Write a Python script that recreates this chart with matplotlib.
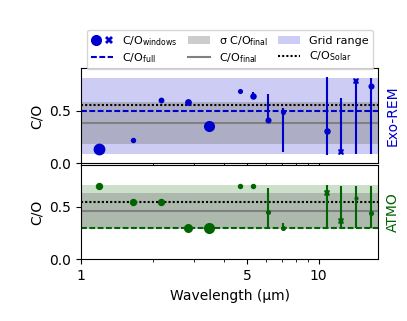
import matplotlib
matplotlib.use('Agg')
import matplotlib.pyplot as plt
import matplotlib.ticker as mticker
from matplotlib.lines import Line2D
from matplotlib.patches import Patch
from matplotlib.legend_handler import HandlerTuple
import numpy as np

# wavelength windows (um)
wl = [1.19, 1.65, 2.17, 2.81, 3.47, 4.69, 5.30, 6.13, 7.05, 10.8, 12.45, 14.4, 16.6]

# Exo-REM
rem_co = [0.14, 0.22, 0.60, 0.58, 0.35, 0.685, 0.64, 0.41, 0.49, 0.31, 0.105, 0.785, 0.73]
rem_lo = [np.nan] * 6 + [0.62, 0.38, 0.11, 0.08, 0.10, 0.09, 0.09]
rem_hi = [np.nan] * 6 + [0.68, 0.66, 0.52, 0.82, 0.62, 0.80, 0.81]
rem_cross = [False] * 10 + [True, True, False]
rem_ms = [8.5, 3.9, 4.2, 4.9, 8.0, 3.7, 4.7, 4.4, 3.7, 4.7, 5.0, 5.0, 4.4]
rem_full = 0.50
rem_final = 0.38
rem_sigma = 0.20
rem_grid = (0.09, 0.81)

# ATMO
atmo_co = [0.70, 0.55, 0.55, 0.30, 0.30, 0.70, 0.70, 0.45, 0.30, 0.635, 0.365, 0.59, 0.44]
atmo_lo = [np.nan] * 7 + [0.30, 0.30, 0.30, 0.30, 0.30, 0.30]
atmo_hi = [np.nan] * 7 + [0.68, 0.35, 0.71, 0.70, 0.70, 0.70]
atmo_cross = [False] * 9 + [True, True, False, False]
atmo_ms = [5.3, 5.3, 5.3, 6.5, 8.0, 3.9, 3.9, 3.7, 3.7, 4.4, 4.4, 3.0, 3.7]
atmo_full = 0.30
atmo_final = 0.46
atmo_sigma = 0.17
atmo_grid = (0.30, 0.71)

co_solar = 0.55

blue = '#0000cd'
green = '#006400'

fig = plt.figure(figsize=(4.07, 3.21), dpi=100)
ax1 = fig.add_axes([0.199, 0.491, 0.730, 0.296])
ax2 = fig.add_axes([0.199, 0.192, 0.730, 0.294])

dash = (0, (2.8, 1.2))
dot = (0, (1, 1))


def panel(ax, co, lo, hi, cross, ms, full, final, sigma, grid, col, name):
    ax.axhspan(grid[0], grid[1], color=col, alpha=0.2, lw=0)
    ax.axhspan(final - sigma, final + sigma, color='gray', alpha=0.4, lw=0)
    ax.axhline(final, color='gray', lw=1.5)
    ax.axhline(co_solar, color='k', lw=1.5, ls=dot)
    ax.axhline(full, color=col, lw=1.5, ls=dash)
    for i in range(len(wl)):
        if not np.isnan(lo[i]):
            ax.vlines(wl[i], lo[i], hi[i], color=col, lw=1.5)
        ax.plot(wl[i], co[i], marker='X' if cross[i] else 'o', ms=ms[i],
                color=col, mew=0, ls='none')
    ax.set_xscale('log')
    ax.set_xlim(1, 17.8)
    ax.set_ylim(0, 0.9)
    ax.set_yticks([0, 0.5])
    ax.yaxis.set_major_formatter(mticker.FormatStrFormatter('%.1f'))
    ax.xaxis.set_major_locator(mticker.FixedLocator([1, 5, 10]))
    ax.xaxis.set_major_formatter(mticker.FixedFormatter(['1', '5', '10']))
    ax.xaxis.set_minor_locator(mticker.FixedLocator([2, 3, 4, 6, 7, 8, 9]))
    ax.xaxis.set_minor_formatter(mticker.NullFormatter())
    ax.tick_params(labelsize=10)
    ax.set_ylabel('C/O', fontsize=10)
    ax.text(1.025, 0.5, name, color=col, rotation=90, va='center', ha='left',
            transform=ax.transAxes, fontsize=10)


panel(ax1, rem_co, rem_lo, rem_hi, rem_cross, rem_ms, rem_full, rem_final,
      rem_sigma, rem_grid, blue, 'Exo-REM')
panel(ax2, atmo_co, atmo_lo, atmo_hi, atmo_cross, atmo_ms, atmo_full, atmo_final,
      atmo_sigma, atmo_grid, green, 'ATMO')
ax1.tick_params(labelbottom=False)
ax2.set_xlabel('Wavelength (µm)', fontsize=10)

h_dot = Line2D([], [], marker='o', color=blue, ls='none', ms=8, mew=0)
h_x = Line2D([], [], marker='X', color=blue, ls='none', ms=6, mew=0)
handles = [
    (h_dot, h_x),
    Line2D([], [], color=blue, lw=1.5, ls=dash),
    Patch(facecolor='gray', alpha=0.4, lw=0),
    Line2D([], [], color='gray', lw=1.5),
    Patch(facecolor=blue, alpha=0.2, lw=0),
    Line2D([], [], color='k', lw=1.5, ls=dot),
]
labels = [r'C/O$_{\rm windows}$', r'C/O$_{\rm full}$', r'σ C/O$_{\rm final}$',
          r'C/O$_{\rm final}$', 'Grid range', r'C/O$_{\rm Solar}$']
fig.legend(handles, labels, ncol=3, loc='upper center', bbox_to_anchor=(0.565, 0.925),
           fontsize=8, handler_map={tuple: HandlerTuple(ndivide=None)},
           columnspacing=0.9, handlelength=2.0, labelspacing=0.3)

fig.savefig('out.png', dpi=100)
